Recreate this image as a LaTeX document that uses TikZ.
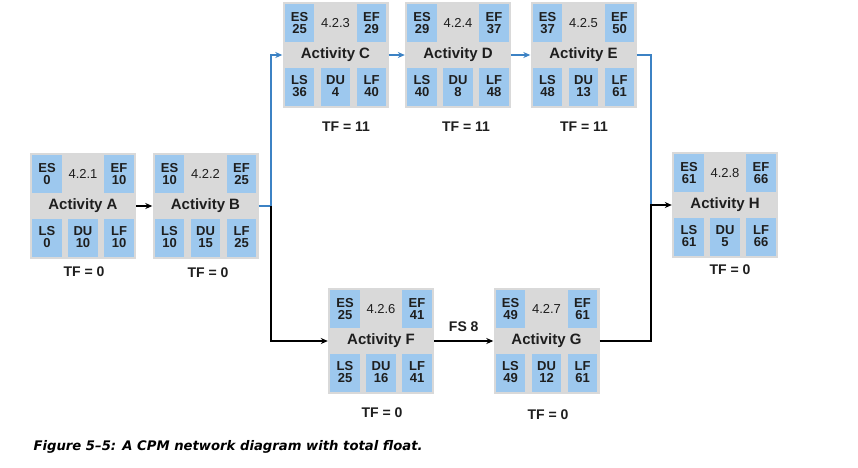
\documentclass[tikz,border=0pt]{standalone}
\usepackage{fontspec}
\setmainfont{Liberation Sans}
\newfontfamily\capfont{DejaVu Sans}
\usetikzlibrary{arrows.meta}

\definecolor{boxgray}{HTML}{D9D9D9}
\definecolor{cellblue}{HTML}{9DC8EE}
\definecolor{lineblue}{HTML}{3C82C4}
\definecolor{txt}{HTML}{1E1E1E}

\newcommand{\actbox}[9]{%
\node[actbg] (#1) at (#2) {};
\node[cell] (#1es) at ([shift={(-36,32)}]#1.center) {ES\\#4};
\node[cell] (#1ef) at ([shift={(36,32)}]#1.center) {EF\\#5};
\node[cell] (#1ls) at ([shift={(-36,-31.5)}]#1.center) {LS\\#6};
\node[cell] (#1du) at ([shift={(0,-31.5)}]#1.center) {DU\\#7};
\node[cell] (#1lf) at ([shift={(36,-31.5)}]#1.center) {LF\\#8};
\node[idlbl] (#1id) at ([yshift=32]#1.center) {#3};
\node[actlbl] (#1lbl) at (#1.center) {Activity #9};
}

\begin{document}
\begin{tikzpicture}[x=1pt,y=1pt,>={Stealth[length=7pt,width=6pt]},
  actbg/.style={fill=boxgray,minimum width=106pt,minimum height=106pt,inner sep=0pt},
  cell/.style={fill=cellblue,minimum width=29.5pt,minimum height=38pt,inner sep=0pt,align=center,text=txt,font=\fontsize{13}{12}\selectfont\bfseries},
  idlbl/.style={text=txt,font=\fontsize{13}{15}\selectfont},
  actlbl/.style={text=txt,font=\fontsize{15}{17}\selectfont\bfseries},
  tflbl/.style={text=txt,font=\fontsize{14}{16}\selectfont\bfseries},
  bline/.style={draw=lineblue,line width=1.6pt},
  kline/.style={draw=black,line width=1.6pt}]
\useasboundingbox (0,0) rectangle (858,-467);

\actbox{A}{83,-206}{4.2.1}{0}{10}{0}{10}{10}{A}
\actbox{B}{205.5,-206}{4.2.2}{10}{25}{10}{15}{25}{B}
\actbox{C}{335.5,-55}{4.2.3}{25}{29}{36}{4}{40}{C}
\actbox{D}{458,-55}{4.2.4}{29}{37}{40}{8}{48}{D}
\actbox{E}{583.5,-55}{4.2.5}{37}{50}{48}{13}{61}{E}
\actbox{F}{381,-341}{4.2.6}{25}{41}{25}{16}{41}{F}
\actbox{G}{546.5,-341}{4.2.7}{49}{61}{49}{12}{61}{G}
\actbox{H}{725,-205}{4.2.8}{61}{66}{61}{5}{66}{H}

\node[tflbl] (tfA) at (84,-272) {TF = 0};
\node[tflbl] (tfB) at (208,-273) {TF = 0};
\node[tflbl] (tfC) at (346,-127) {TF = 11};
\node[tflbl] (tfD) at (466,-127) {TF = 11};
\node[tflbl] (tfE) at (584,-127) {TF = 11};
\node[tflbl] (tfF) at (382,-413) {TF = 0};
\node[tflbl] (tfG) at (548,-415) {TF = 0};
\node[tflbl] (tfH) at (730,-270) {TF = 0};

\coordinate (jb) at (271,-206);
\coordinate (jh) at (651,-205);

\draw[kline,->] (A) -- (B);
\draw[bline,->] (B.east) -- (jb) |- (C.west);
\draw[kline,->] (jb) |- (F.west);
\draw[bline,->] (C) -- (D);
\draw[bline,->] (D) -- (E);
\draw[kline,->] (F) -- (G) node[midway,above=5pt,tflbl] (fs) {FS 8};
\draw[bline] (E.east) -| (jh);
\draw[kline,->] (G.east) -| (jh) -- (H.west);

\node[anchor=west,font=\capfont\bfseries\itshape\fontsize{13.2}{15}\selectfont] (cap) at (30,-447) {Figure 5–5: A CPM network diagram with total float.};
\end{tikzpicture}
\end{document}
